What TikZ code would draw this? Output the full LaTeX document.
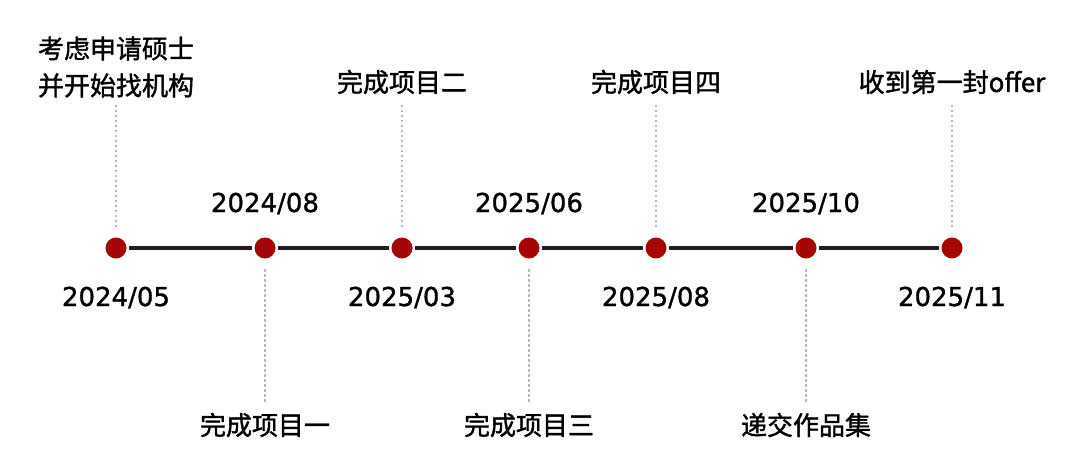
\documentclass[tikz,border=0pt]{standalone}
\usepackage{fontspec}
\setmainfont{DejaVu Sans}[FakeBold=1.2]
\newfontfamily\cjk{Noto Sans CJK SC}[FakeBold=1.4]
\usetikzlibrary{positioning}
\definecolor{dotred}{HTML}{A50505}
\definecolor{axisdark}{HTML}{231E1E}
\definecolor{guidegray}{HTML}{B8B8B8}

\begin{document}
\begin{tikzpicture} [x=1pt, y=1pt, on grid,
  dot/.style = {circle, fill=dotred, minimum size=21pt, inner sep=0pt, outer sep=2.5pt},
  date/.style = {font=\fontsize{26}{30}\selectfont, anchor=base, inner sep=0pt},
  event/.style = {font=\cjk\fontsize{26}{37}\selectfont, align=center, inner sep=0pt},
  axis/.style = {line width=4.5pt, draw=axisdark},
  guide/.style = {line width=2.5pt, draw=guidegray, dash pattern=on 2.5pt off 2.5pt,
                  shorten <=21pt, shorten >=21pt}]

\useasboundingbox (0,0) rectangle (1080,-469);

% timeline dots
\node (d0) [dot] at (116,-248) {};
\node (d1) [dot, right = 149pt of d0] {};
\node (d2) [dot, right = 137pt of d1] {};
\node (d3) [dot, right = 127pt of d2] {};
\node (d4) [dot, right = 127pt of d3] {};
\node (d5) [dot, right = 150pt of d4] {};
\node (d6) [dot, right = 146pt of d5] {};

% dates
\node (t0) [below = 58pt of d0, date] {2024/05};
\node (t1) [above = 36pt of d1, date] {2024/08};
\node (t2) [below = 58pt of d2, date] {2025/03};
\node (t3) [above = 36pt of d3, date] {2025/06};
\node (t4) [below = 58pt of d4, date] {2025/08};
\node (t5) [above = 36pt of d5, date] {2025/10};
\node (t6) [below = 58pt of d6, date] {2025/11};

% events
\node (l0) [event, above = 181pt of d0] {考虑申请硕士\\并开始找机构};
\node (l1) [event, below = 177pt of d1] {完成项目一};
\node (l2) [event, above = 166pt of d2] {完成项目二};
\node (l3) [event, below = 177pt of d3] {完成项目三};
\node (l4) [event, above = 166pt of d4] {完成项目四};
\node (l5) [event, below = 177pt of d5] {递交作品集};
\node (l6) [event, above = 166pt of d6] {收到第一封offer};

\path [axis]
  (d0) edge (d1)
  (d1) edge (d2)
  (d2) edge (d3)
  (d3) edge (d4)
  (d4) edge (d5)
  (d5) edge (d6);

\path [guide]
  (d0.center) edge [shorten >=36pt] (l0.center);
\path [guide]
  (d1.center) edge (l1.center);
\path [guide]
  (d2.center) edge (l2.center);
\path [guide]
  (d3.center) edge (l3.center);
\path [guide]
  (d4.center) edge (l4.center);
\path [guide]
  (d5.center) edge (l5.center);
\path [guide]
  (d6.center) edge (l6.center);

\end{tikzpicture}
\end{document}
